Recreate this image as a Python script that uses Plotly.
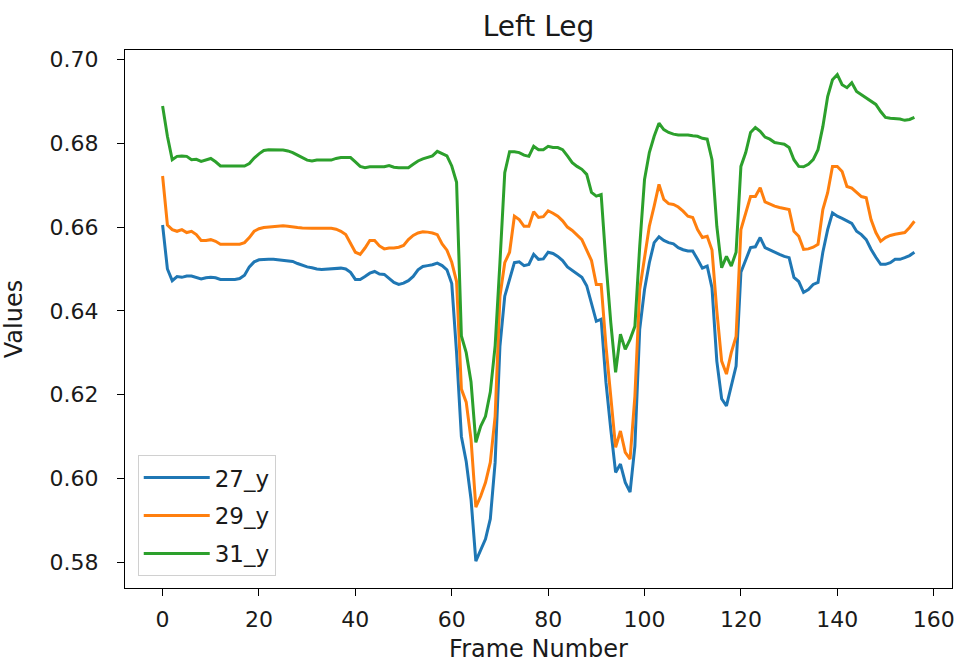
import plotly.graph_objects as go

frames = list(range(157))

y27 = [0.6605, 0.6500, 0.6472, 0.6482, 0.6480, 0.6483, 0.6483, 0.6479, 0.6476, 0.6479,
       0.6480, 0.6479, 0.6475, 0.6475, 0.6475, 0.6475, 0.6477, 0.6485, 0.6505, 0.6517,
       0.6522, 0.6523, 0.6523, 0.6523, 0.6522, 0.6521, 0.6520, 0.6518, 0.6513, 0.6509,
       0.6505, 0.6503, 0.6500, 0.6499, 0.6500, 0.6500, 0.6501, 0.6502, 0.6500, 0.6492,
       0.6475, 0.6475, 0.6482, 0.6490, 0.6494, 0.6488, 0.6487, 0.6478, 0.6468, 0.6463,
       0.6466, 0.6472, 0.6482, 0.6498, 0.6506, 0.6508, 0.6510, 0.6514, 0.6508, 0.6498,
       0.6465, 0.6300, 0.6100, 0.6040, 0.5950, 0.5802, 0.5830, 0.5855, 0.5903, 0.6038,
       0.6316, 0.6435, 0.6475, 0.6515, 0.6517, 0.6508, 0.6511, 0.6535, 0.6523, 0.6524,
       0.6540, 0.6537, 0.6530, 0.6520, 0.6505, 0.6497, 0.6488, 0.6480, 0.6460, 0.6420,
       0.6375, 0.6380, 0.6229, 0.6117, 0.6014, 0.6034, 0.5990, 0.5967, 0.6077, 0.6356,
       0.6451, 0.6515, 0.6563, 0.6577, 0.6568, 0.6563, 0.6560, 0.6551, 0.6546, 0.6543,
       0.6543, 0.6523, 0.6502, 0.6507, 0.6455, 0.6280, 0.6190, 0.6173, 0.6221, 0.6268,
       0.6492, 0.6523, 0.6551, 0.6553, 0.6575, 0.6551, 0.6545, 0.6540, 0.6535, 0.6530,
       0.6527, 0.6480, 0.6470, 0.6444, 0.6451, 0.6463, 0.6468, 0.6540, 0.6594, 0.6634,
       0.6626, 0.6621, 0.6614, 0.6609, 0.6590, 0.6582, 0.6570, 0.6547, 0.6528, 0.6511,
       0.6511, 0.6515, 0.6523, 0.6523, 0.6527, 0.6532, 0.6540]

y29 = [0.6722, 0.6605, 0.6594, 0.6590, 0.6594, 0.6587, 0.6590, 0.6582, 0.6568, 0.6568,
       0.6570, 0.6566, 0.6559, 0.6559, 0.6559, 0.6559, 0.6559, 0.6563, 0.6575, 0.6590,
       0.6596, 0.6599, 0.6600, 0.6602, 0.6602, 0.6603, 0.6602, 0.6600, 0.6599, 0.6598,
       0.6597, 0.6597, 0.6597, 0.6597, 0.6597, 0.6597, 0.6595, 0.6590, 0.6582, 0.6560,
       0.6540, 0.6535, 0.6550, 0.6568, 0.6568, 0.6555, 0.6548, 0.6550, 0.6550, 0.6552,
       0.6556, 0.6570, 0.6580, 0.6586, 0.6589, 0.6588, 0.6586, 0.6582, 0.6560, 0.6545,
       0.6516, 0.6470, 0.6213, 0.6182, 0.6093, 0.5931, 0.5957, 0.5990, 0.6038, 0.6148,
       0.6435, 0.6515, 0.6540, 0.6626, 0.6618, 0.6602, 0.6602, 0.6637, 0.6623, 0.6625,
       0.6639, 0.6633, 0.6626, 0.6615, 0.6600, 0.6592, 0.6582, 0.6570, 0.6545, 0.6520,
       0.6463, 0.6463, 0.6316, 0.6196, 0.6074, 0.6113, 0.6062, 0.6046, 0.6196, 0.6451,
       0.6530, 0.6602, 0.6650, 0.6702, 0.6666, 0.6656, 0.6654, 0.6648, 0.6638, 0.6626,
       0.6623, 0.6594, 0.6575, 0.6578, 0.6545, 0.6400, 0.6280, 0.6249, 0.6300, 0.6339,
       0.6594, 0.6634, 0.6673, 0.6673, 0.6694, 0.6660, 0.6654, 0.6650, 0.6647, 0.6644,
       0.6642, 0.6590, 0.6578, 0.6547, 0.6548, 0.6552, 0.6559, 0.6642, 0.6682, 0.6745,
       0.6745, 0.6733, 0.6697, 0.6693, 0.6682, 0.6673, 0.6670, 0.6618, 0.6587, 0.6566,
       0.6575, 0.6580, 0.6583, 0.6585, 0.6587, 0.6599, 0.6614]

y31 = [0.6889, 0.6817, 0.6761, 0.6769, 0.6770, 0.6769, 0.6761, 0.6762, 0.6757, 0.6760,
       0.6764, 0.6756, 0.6746, 0.6746, 0.6746, 0.6746, 0.6746, 0.6746, 0.6752, 0.6765,
       0.6775, 0.6783, 0.6785, 0.6785, 0.6785, 0.6784, 0.6782, 0.6778, 0.6772, 0.6766,
       0.6760, 0.6758, 0.6760, 0.6760, 0.6760, 0.6760, 0.6764, 0.6766, 0.6766, 0.6766,
       0.6756, 0.6745, 0.6742, 0.6744, 0.6744, 0.6744, 0.6744, 0.6747, 0.6743, 0.6742,
       0.6742, 0.6742, 0.6750, 0.6758, 0.6763, 0.6766, 0.6770, 0.6781, 0.6776, 0.6770,
       0.6746, 0.6707, 0.6340, 0.6300, 0.6230, 0.6086, 0.6124, 0.6148, 0.6206, 0.6316,
       0.6516, 0.6730, 0.6780, 0.6780, 0.6778, 0.6772, 0.6769, 0.6793, 0.6785, 0.6785,
       0.6793, 0.6790, 0.6790, 0.6785, 0.6770, 0.6754, 0.6745, 0.6738, 0.6726, 0.6683,
       0.6674, 0.6678, 0.6515, 0.6372, 0.6253, 0.6344, 0.6308, 0.6332, 0.6363, 0.6554,
       0.6714, 0.6778, 0.6817, 0.6848, 0.6833, 0.6826, 0.6822, 0.6820, 0.6820, 0.6820,
       0.6818, 0.6817, 0.6812, 0.6810, 0.6761, 0.6602, 0.6503, 0.6530, 0.6507, 0.6540,
       0.6745, 0.6778, 0.6826, 0.6838, 0.6829, 0.6815, 0.6810, 0.6802, 0.6800, 0.6798,
       0.6790, 0.6761, 0.6745, 0.6744, 0.6750, 0.6761, 0.6785, 0.6840, 0.6912, 0.6952,
       0.6964, 0.6940, 0.6933, 0.6945, 0.6924, 0.6916, 0.6908, 0.6900, 0.6893, 0.6876,
       0.6862, 0.6860, 0.6859, 0.6858, 0.6855, 0.6857, 0.6862]

series_names = ["27_y", "29_y", "31_y"]
series_colors = ["#1f77b4", "#ff7f0e", "#2ca02c"]
x_ticks = [0, 20, 40, 60, 80, 100, 120, 140, 160]
y_ticks = [0.58, 0.60, 0.62, 0.64, 0.66, 0.68, 0.70]

FONT = "DejaVu Sans, Verdana, sans-serif"
TXT = "#1a1a1a"

fig = go.Figure()
for name, ys, col in zip(series_names, [y27, y29, y31], series_colors):
    fig.add_trace(go.Scatter(x=frames, y=ys, mode="lines", name=name, legendgroup=name,
                             line=dict(color=col, width=3)))

axis_common = dict(showline=True, linecolor="black", linewidth=1.2, mirror=True,
                   ticks="outside", ticklen=7, tickcolor="black", tickwidth=1.2,
                   showgrid=False, zeroline=False, automargin=False,
                   tickfont=dict(family=FONT, size=22, color=TXT))

fig.update_layout(
    width=957, height=663, autosize=False,
    margin=dict(l=125, r=5, t=50, b=75),
    paper_bgcolor="white", plot_bgcolor="white",
    title=dict(text="Left Leg", x=0.5, xref="paper", y=1 - 26 / 663, yref="container",
               yanchor="middle", font=dict(family=FONT, size=28, color=TXT)),
    xaxis=dict(range=[-7.8, 163.8], tickvals=x_ticks,
               title=dict(text="Frame Number", font=dict(family=FONT, size=24, color=TXT), standoff=16),
               ticklabelstandoff=4, **axis_common),
    yaxis=dict(range=[0.5738, 0.7023], tickvals=y_ticks, tickformat=".2f",
               title=dict(text="Values", font=dict(family=FONT, size=24, color=TXT), standoff=20),
               ticklabelstandoff=14, **axis_common),
    legend=dict(x=0.0154, y=0.022, xanchor="left", yanchor="bottom",
                bgcolor="rgba(255,255,255,0.8)", bordercolor="#d0d0d0", borderwidth=1,
                font=dict(family=FONT, size=23, color=TXT), tracegroupgap=5,
                itemwidth=66),
    showlegend=True,
)

fig.write_html(
    "out.html",
    config={"responsive": False, "displayModeBar": False},
    post_script="document.body.style.margin='0';document.body.style.overflow='hidden';",
)
